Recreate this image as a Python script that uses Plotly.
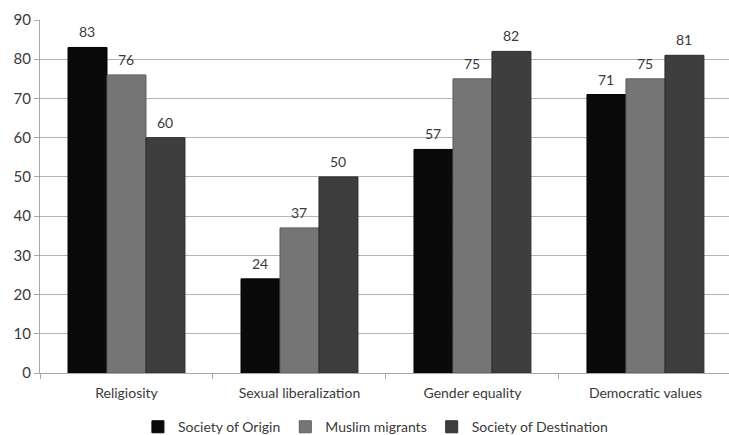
import plotly.graph_objects as go

categories = ["Religiosity", "Sexual liberalization", "Gender equality", "Democratic values"]
series_names = ["Society of Origin", "Muslim migrants", "Society of Destination"]
society_of_origin = [83, 24, 57, 71]
muslim_migrants = [76, 37, 75, 75]
society_of_destination = [60, 50, 82, 81]
y_ticks = [0, 10, 20, 30, 40, 50, 60, 70, 80, 90]

series_values = [society_of_origin, muslim_migrants, society_of_destination]
colors = ["#0a0a0a", "#757575", "#3e3e3e"]
edge_colors = ["#000000", "#5e5e5e", "#2c2c2c"]

FONT = "Lato, 'Open Sans', sans-serif"
TEXT = "#3a3a3a"

fig = go.Figure()
for name, vals, col, edge in zip(series_names, series_values, colors, edge_colors):
    fig.add_trace(go.Bar(
        name=name, x=categories, y=vals,
        marker=dict(color=col, line=dict(color=edge, width=1)),
    ))

# value labels above each bar, shifted to their slot within the group
bar_px = 39
for i, vals in enumerate(series_values):
    for cat, v in zip(categories, vals):
        fig.add_annotation(
            x=cat, y=v, text=str(v), showarrow=False,
            xshift=(i - 1) * bar_px, yshift=5, yanchor="bottom",
            font=dict(family=FONT, size=14, color=TEXT),
        )

fig.update_layout(
    width=729, height=435,
    margin=dict(l=40, r=0, t=20, b=62, autoexpand=False),
    paper_bgcolor="white", plot_bgcolor="white",
    barmode="group", bargap=0.324, bargroupgap=0,
    font=dict(family=FONT, size=14, color=TEXT),
    showlegend=True,
    legend=dict(
        orientation="h", xref="container", x=0.515, xanchor="center",
        yref="container", y=0.018, yanchor="middle",
        font=dict(family=FONT, size=14, color=TEXT),
        itemwidth=30, traceorder="normal",
    ),
    xaxis=dict(
        range=[-0.5, 3.483],
        showline=True, linecolor="#a8a8a8", linewidth=1,
        ticks="outside", tickson="boundaries", ticklen=5, tickcolor="#a8a8a8",
        showgrid=False, ticklabelstandoff=7,
        tickfont=dict(family=FONT, size=14, color=TEXT),
    ),
    yaxis=dict(
        range=[0, 90], tickvals=y_ticks,
        showline=True, linecolor="#a8a8a8", linewidth=1,
        ticks="outside", ticklen=5, tickcolor="#a8a8a8",
        showgrid=True, gridcolor="#b4b4b4", gridwidth=1,
        zeroline=False,
        tickfont=dict(family=FONT, size=15, color=TEXT),
    ),
)

fig.write_html("out.html")
